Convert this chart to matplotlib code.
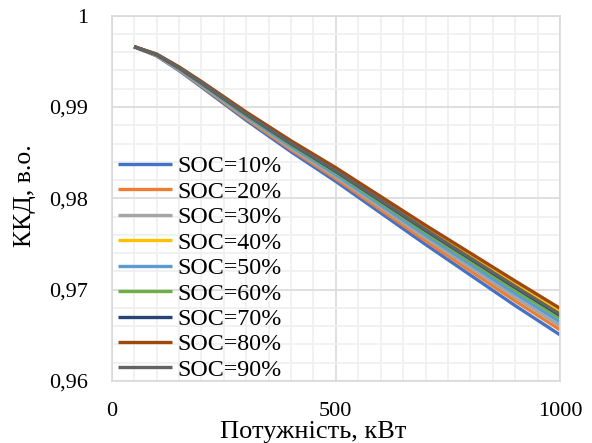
import matplotlib
matplotlib.use("Agg")
import matplotlib.pyplot as plt
from matplotlib.ticker import MultipleLocator, FuncFormatter

power_kw = [50, 100, 150, 200, 300, 400, 500, 600, 700, 800, 900, 1000]

soc_10 = [0.99660, 0.99560, 0.99400, 0.99220, 0.98855, 0.98510, 0.98185, 0.97840, 0.97495, 0.97160, 0.96825, 0.96505]
soc_20 = [0.99660, 0.99564, 0.99408, 0.99231, 0.98872, 0.98533, 0.98214, 0.97874, 0.97535, 0.97206, 0.96876, 0.96560]
soc_30 = [0.99660, 0.99567, 0.99414, 0.99240, 0.98886, 0.98551, 0.98236, 0.97901, 0.97566, 0.97242, 0.96917, 0.96604]
soc_40 = [0.99660, 0.99577, 0.99434, 0.99272, 0.98932, 0.98613, 0.98314, 0.97995, 0.97676, 0.97366, 0.97057, 0.96754]
soc_50 = [0.99660, 0.99570, 0.99420, 0.99249, 0.98899, 0.98569, 0.98259, 0.97928, 0.97598, 0.97278, 0.96957, 0.96647]
soc_60 = [0.99660, 0.99573, 0.99425, 0.99258, 0.98912, 0.98586, 0.98280, 0.97953, 0.97627, 0.97311, 0.96995, 0.96688]
soc_70 = [0.99660, 0.99575, 0.99430, 0.99264, 0.98922, 0.98599, 0.98296, 0.97973, 0.97650, 0.97338, 0.97025, 0.96720]
soc_80 = [0.99660, 0.99580, 0.99440, 0.99280, 0.98945, 0.98630, 0.98335, 0.98020, 0.97705, 0.97400, 0.97095, 0.96795]
soc_90 = [0.99660, 0.99576, 0.99431, 0.99267, 0.98925, 0.98604, 0.98302, 0.97980, 0.97659, 0.97347, 0.97036, 0.96731]

labels = ["SOC=10%", "SOC=20%", "SOC=30%", "SOC=40%", "SOC=50%",
          "SOC=60%", "SOC=70%", "SOC=80%", "SOC=90%"]
series = [soc_10, soc_20, soc_30, soc_40, soc_50, soc_60, soc_70, soc_80, soc_90]
colors = ["#4472C4", "#ED7D31", "#A5A5A5", "#FFC000", "#5B9BD5",
          "#70AD47", "#264478", "#9E480E", "#636363"]

x_label = "Потужність, кВт"
y_label = "ККД, в.о."

plt.rcParams['font.family'] = ['Liberation Serif', 'DejaVu Serif']

fig = plt.figure(figsize=(5.92, 4.43), dpi=100)
ax = fig.add_axes([0.1887, 0.1400, 0.7573, 0.8246])

for ys, lab, c in zip(series, labels, colors):
    ax.plot(power_kw, ys, color=c, lw=2.4, label=lab, solid_capstyle='butt')

ax.set_xlim(0, 1000)
ax.set_ylim(0.96, 1.0)
ax.xaxis.set_major_locator(MultipleLocator(500))
ax.xaxis.set_minor_locator(MultipleLocator(50))
ax.yaxis.set_major_locator(MultipleLocator(0.01))
ax.yaxis.set_minor_locator(MultipleLocator(0.002))

def yfmt(v, pos):
    if abs(v - 1.0) < 1e-9:
        return "1"
    return ("%.2f" % v).replace(".", ",")

ax.yaxis.set_major_formatter(FuncFormatter(yfmt))
ax.xaxis.set_major_formatter(FuncFormatter(lambda v, p: "%d" % round(v)))

ax.grid(which='major', color='#d9d9d9', lw=1.2)
ax.grid(which='minor', color='#efefef', lw=1.2)
ax.set_axisbelow(True)
for s in ax.spines.values():
    s.set_color('#d9d9d9')
    s.set_linewidth(1.2)

ax.tick_params(which='both', length=0)
ax.tick_params(axis='y', labelsize=16, pad=17)
ax.tick_params(axis='x', labelsize=16, pad=15)

fig.text(313 / 592, 1 - 432 / 443, x_label, fontsize=19, ha='center', va='center')
fig.text(25 / 592, 1 - 196 / 443, y_label, fontsize=18.5, ha='center', va='center',
         rotation=90)

leg = ax.legend(loc='lower left', bbox_to_anchor=(-0.019, -0.039), frameon=False,
                fontsize=17.3, handlelength=2.25, handletextpad=0.25,
                labelspacing=0.15, borderaxespad=0.2)

fig.savefig("out.png", dpi=100)
